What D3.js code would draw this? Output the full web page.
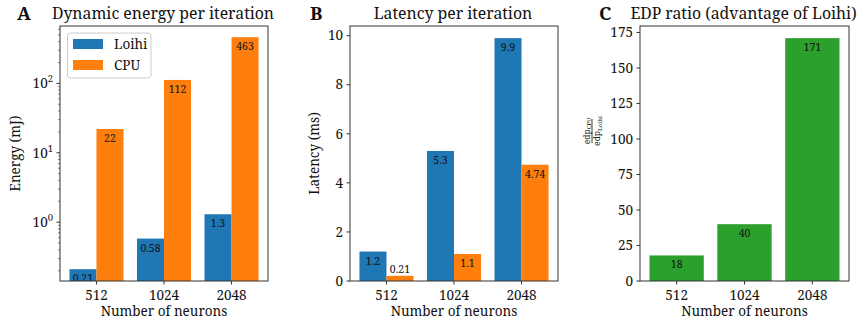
<!DOCTYPE html>
<html>
<head>
<meta charset="utf-8">
<script src="https://cdn.jsdelivr.net/npm/d3@7"></script>
<style>
	body { margin: 0; background: #fff; }
</style>
</head>
<body>
<div id="chart"></div>
<script>
const categories = ["512", "1024", "2048"];
const energyLoihi = [0.21, 0.58, 1.3];
const energyCPU = [22, 112, 463];
const latencyLoihi = [1.2, 5.3, 9.9];
const latencyCPU = [0.21, 1.1, 4.74];
const edpRatio = [18, 40, 171];
const latencyTicks = [0, 2, 4, 6, 8, 10];
const edpTicks = [0, 25, 50, 75, 100, 125, 150, 175];
const seriesNames = ["Loihi", "CPU"];

const width = 858;
const height = 321;
const colors = { Loihi: "#1f77b4", CPU: "#ff7f0e", ratio: "#2ca02c" };
const plotTop = 26, plotBottom = 281;
const tickFont = "13.5px";

const svg = d3.select("#chart").append("svg")
	.attr("width", width)
	.attr("height", height)
	.attr("font-family", "'Noto Serif', 'DejaVu Serif', serif")
	.attr("fill", "#111");

const defs = svg.append("defs");

function panel(id, left, right, title) {
	const g = svg.append("g");
	defs.append("clipPath").attr("id", "clip" + id)
		.append("rect").attr("x", left).attr("y", plotTop).attr("width", right - left).attr("height", plotBottom - plotTop);
	const x = d3.scaleLinear().domain([-0.54, 2.54]).range([left, right]);
	g.append("text").attr("x", (left + right) / 2 - 1).attr("y", 19)
		.attr("text-anchor", "middle").attr("font-size", "15.8px").text(title);
	return { g, x, left, right, clip: "url(#clip" + id + ")" };
}

function frame(p) {
	p.g.append("rect").attr("x", p.left).attr("y", plotTop)
		.attr("width", p.right - p.left).attr("height", plotBottom - plotTop)
		.attr("fill", "none").attr("stroke", "#333").attr("stroke-width", 1);
	const ax = p.g.append("g").attr("transform", `translate(0,${plotBottom})`);
	categories.forEach((c, i) => {
		ax.append("line").attr("x1", p.x(i)).attr("x2", p.x(i)).attr("y1", 0).attr("y2", 3.5).attr("stroke", "#333");
		ax.append("text").attr("x", p.x(i)).attr("y", 18.5).attr("text-anchor", "middle").attr("font-size", tickFont).text(c);
	});
	p.g.append("text").attr("x", (p.left + p.right) / 2).attr("y", 316)
		.attr("text-anchor", "middle").attr("font-size", tickFont).text("Number of neurons");
}

function bars(p, y, values, offset, w, color) {
	const gb = p.g.append("g").attr("clip-path", p.clip);
	values.forEach((v, i) => {
		const x0 = p.x(i + offset - w / 2), x1 = p.x(i + offset + w / 2);
		const yt = y(v);
		gb.append("rect").attr("x", x0).attr("y", yt).attr("width", x1 - x0).attr("height", plotBottom - yt).attr("fill", color);
		const ly = yt + 9 > plotBottom ? yt - 3 : yt + 13;
		gb.append("text").attr("x", (x0 + x1) / 2).attr("y", ly)
			.attr("text-anchor", "middle").attr("font-size", "10.5px").text(String(v));
	});
}

function yTicks(p, y, ticks, fmt) {
	ticks.forEach(t => {
		p.g.append("line").attr("x1", p.left - 3.5).attr("x2", p.left).attr("y1", y(t)).attr("y2", y(t)).attr("stroke", "#333");
		p.g.append("text").attr("x", p.left - 7).attr("y", y(t)).attr("dy", "0.35em")
			.attr("text-anchor", "end").attr("font-size", tickFont).text(fmt(t));
	});
}

// A: energy (log)
const pa = panel("a", 60, 268, "Dynamic energy per iteration");
const yA = d3.scaleLog().domain([0.142, 671]).range([plotBottom, plotTop]);
bars(pa, yA, energyLoihi, -0.2, 0.4, colors.Loihi);
bars(pa, yA, energyCPU, 0.2, 0.4, colors.CPU);
frame(pa);
[0, 1, 2].forEach(k => {
	const t = Math.pow(10, k);
	pa.g.append("line").attr("x1", 60 - 3.5).attr("x2", 60).attr("y1", yA(t)).attr("y2", yA(t)).attr("stroke", "#333");
	const tx = pa.g.append("text").attr("x", 53).attr("y", yA(t) + 5).attr("text-anchor", "end").attr("font-size", tickFont);
	tx.append("tspan").text("10");
	tx.append("tspan").attr("dy", -6).attr("font-size", "9.5px").text(k);
});
for (let k = -1; k <= 2; k++) {
	for (let m = 2; m <= 9; m++) {
		const t = m * Math.pow(10, k);
		if (t < 0.142 || t > 671) continue;
		pa.g.append("line").attr("x1", 60 - 2).attr("x2", 60).attr("y1", yA(t)).attr("y2", yA(t)).attr("stroke", "#333").attr("stroke-width", 0.6);
	}
}
pa.g.append("text").attr("transform", `translate(20,${(plotTop + plotBottom) / 2}) rotate(-90)`)
	.attr("text-anchor", "middle").attr("font-size", tickFont).text("Energy (mJ)");
// legend
const lg = pa.g.append("g");
lg.append("rect").attr("x", 67.5).attr("y", 33).attr("width", 83.5).attr("height", 45).attr("rx", 3)
	.attr("fill", "#fff").attr("fill-opacity", 0.8).attr("stroke", "#ccc");
seriesNames.forEach((s, i) => {
	lg.append("rect").attr("x", 73).attr("y", 39 + i * 21).attr("width", 30).attr("height", 10).attr("fill", colors[s]);
	lg.append("text").attr("x", 114).attr("y", 49 + i * 21).attr("font-size", tickFont).text(s);
});

// B: latency
const pb = panel("b", 350, 558, "Latency per iteration");
const yB = d3.scaleLinear().domain([0, 10.395]).range([plotBottom, plotTop]);
bars(pb, yB, latencyLoihi, -0.2, 0.4, colors.Loihi);
bars(pb, yB, latencyCPU, 0.2, 0.4, colors.CPU);
frame(pb);
yTicks(pb, yB, latencyTicks, d => d);
pb.g.append("text").attr("transform", `translate(319,${(plotTop + plotBottom) / 2}) rotate(-90)`)
	.attr("text-anchor", "middle").attr("font-size", tickFont).text("Latency (ms)");

// C: EDP ratio
const pc = panel("c", 640, 849, "EDP ratio (advantage of Loihi)");
const yC = d3.scaleLinear().domain([0, 179.55]).range([plotBottom, plotTop]);
bars(pc, yC, edpRatio, 0, 0.8, colors.ratio);
frame(pc);
yTicks(pc, yC, edpTicks, d => d);
const fr = pc.g.append("g").attr("transform", `translate(592,131) rotate(-90)`);
fr.append("line").attr("x1", -12).attr("x2", 12).attr("y1", 0).attr("y2", 0).attr("stroke", "#111").attr("stroke-width", 0.8);
const num = fr.append("text").attr("x", 0).attr("y", -2.5).attr("text-anchor", "middle").attr("font-size", "8.5px");
num.append("tspan").text("edp");
num.append("tspan").attr("dy", 1.5).attr("font-size", "6px").text("CPU");
const den = fr.append("text").attr("x", 0).attr("y", 8).attr("text-anchor", "middle").attr("font-size", "8.5px");
den.append("tspan").text("edp");
den.append("tspan").attr("dy", 1.5).attr("font-size", "6px").text("Loihi");

// panel letters
[["A", 17], ["B", 310], ["C", 599]].forEach(([l, x]) => {
	svg.append("text").attr("x", x).attr("y", 20).attr("font-size", "18.5px").attr("font-weight", "bold").text(l);
});
</script>
</body>
</html>
